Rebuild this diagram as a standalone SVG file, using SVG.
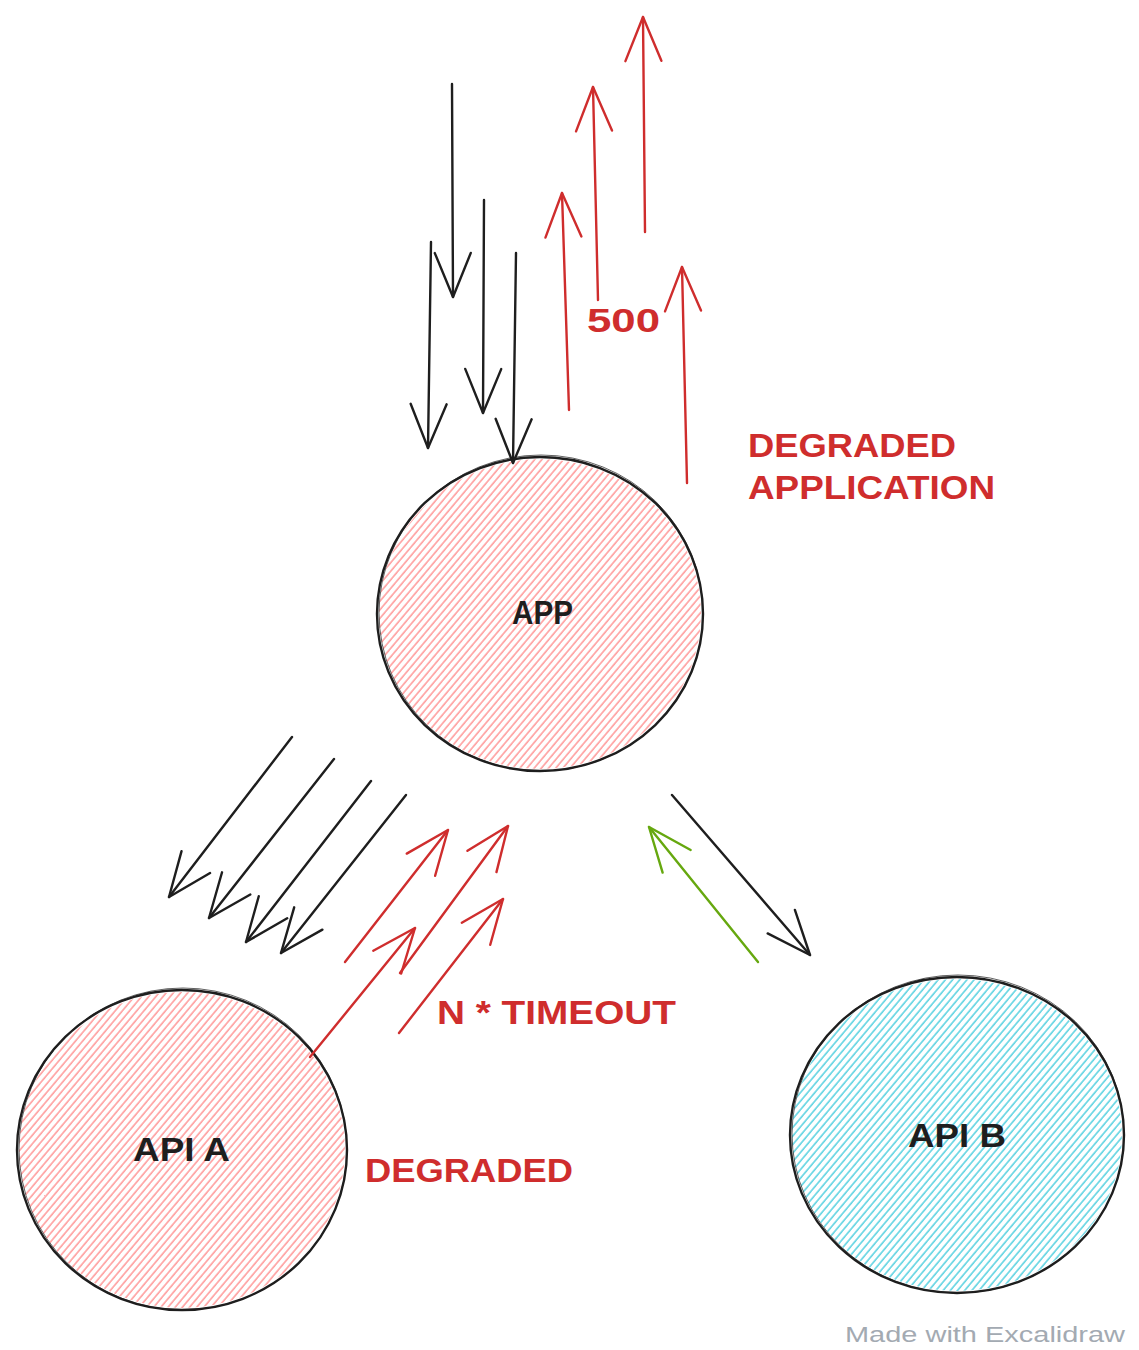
<svg xmlns="http://www.w3.org/2000/svg" width="1139" height="1350" viewBox="0 0 1139 1350">
  <style>
    .edge { fill: none; stroke-width: 2.4; stroke-linecap: round; stroke-linejoin: round; }
    .k { stroke: #1e1e1e; }
    .r { stroke: #cf2d2d; }
    .g { stroke: #66a80f; }
    .outline { fill: none; stroke: #1e1e1e; stroke-width: 2.4; }
    .outline2 { fill: none; stroke: #1e1e1e; stroke-width: 1; opacity: 0.7; }
    .lbl { font-family: "Liberation Sans", "DejaVu Sans", sans-serif; font-weight: bold; }
    .nodeText { fill: #1e1e1e; font-size: 34px; }
    .redText { fill: #cf2d2d; font-size: 34px; }
    .wm { fill: #a3aab2; font-size: 22px; font-weight: normal; }
  </style>
  <defs>
    <pattern id="hatchRed" patternUnits="userSpaceOnUse" width="5.5" height="10" patternTransform="rotate(40)">
      <line x1="1" y1="0" x2="1" y2="10" stroke="#ff8787" stroke-width="1.3"/>
    </pattern>
    <pattern id="hatchBlue" patternUnits="userSpaceOnUse" width="5.5" height="10" patternTransform="rotate(40)">
      <line x1="1" y1="0" x2="1" y2="10" stroke="#3bc9db" stroke-width="1.3"/>
    </pattern>
    <marker id="ahK" markerUnits="userSpaceOnUse" viewBox="-50 -25 56 50" markerWidth="56" markerHeight="50" refX="0" refY="0" orient="auto" overflow="visible">
      <path d="M -44 -18 L 0 0 L -44 18" fill="none" stroke="#1e1e1e" stroke-width="2.4" stroke-linecap="round" stroke-linejoin="round"/>
    </marker>
    <marker id="ahR" markerUnits="userSpaceOnUse" viewBox="-50 -25 56 50" markerWidth="56" markerHeight="50" refX="0" refY="0" orient="auto" overflow="visible">
      <path d="M -44 -18 L 0 0 L -44 18" fill="none" stroke="#cf2d2d" stroke-width="2.4" stroke-linecap="round" stroke-linejoin="round"/>
    </marker>
    <marker id="ahG" markerUnits="userSpaceOnUse" viewBox="-50 -25 56 50" markerWidth="56" markerHeight="50" refX="0" refY="0" orient="auto" overflow="visible">
      <path d="M -44 -18 L 0 0 L -44 18" fill="none" stroke="#66a80f" stroke-width="2.4" stroke-linecap="round" stroke-linejoin="round"/>
    </marker>
  </defs>

  <rect x="0" y="0" width="1139" height="1350" fill="#ffffff"/>

  <g id="node-app">
    <ellipse cx="540" cy="614" rx="161" ry="155" fill="url(#hatchRed)"/>
    <ellipse cx="540" cy="614" rx="163" ry="157" class="outline"/>
    <ellipse cx="541" cy="613" rx="162" ry="158" class="outline2"/>
    <text x="512" y="624" class="lbl nodeText" textLength="61" lengthAdjust="spacingAndGlyphs">APP</text>
  </g>

  <g id="node-api-a">
    <ellipse cx="182" cy="1150" rx="163" ry="158" fill="url(#hatchRed)"/>
    <ellipse cx="182" cy="1150" rx="165" ry="160" class="outline"/>
    <ellipse cx="183" cy="1149" rx="164" ry="161" class="outline2"/>
    <text x="133" y="1161" class="lbl nodeText" textLength="97" lengthAdjust="spacingAndGlyphs">API A</text>
  </g>

  <g id="node-api-b">
    <ellipse cx="957" cy="1135" rx="165" ry="156" fill="url(#hatchBlue)"/>
    <ellipse cx="957" cy="1135" rx="167" ry="158" class="outline"/>
    <ellipse cx="958" cy="1134" rx="166" ry="159" class="outline2"/>
    <text x="908" y="1147" class="lbl nodeText" textLength="98" lengthAdjust="spacingAndGlyphs">API B</text>
  </g>

  <g id="connectors">
    <!-- incoming requests to APP -->
    <path class="edge k" d="M 452 84 L 453 297" marker-end="url(#ahK)"/>
    <path class="edge k" d="M 431 242 L 428 448" marker-end="url(#ahK)"/>
    <path class="edge k" d="M 484 200 L 483 413" marker-end="url(#ahK)"/>
    <path class="edge k" d="M 516 253 L 513 463" marker-end="url(#ahK)"/>
    <!-- 500 responses -->
    <path class="edge r" d="M 569 410 L 562 193" marker-end="url(#ahR)"/>
    <path class="edge r" d="M 598 300 L 593 87" marker-end="url(#ahR)"/>
    <path class="edge r" d="M 645 232 L 643 17" marker-end="url(#ahR)"/>
    <path class="edge r" d="M 687 483 L 682 267" marker-end="url(#ahR)"/>
    <!-- APP to API A -->
    <path class="edge k" d="M 292 737 L 169 897" marker-end="url(#ahK)"/>
    <path class="edge k" d="M 334 759 L 209 918" marker-end="url(#ahK)"/>
    <path class="edge k" d="M 371 781 L 246 942" marker-end="url(#ahK)"/>
    <path class="edge k" d="M 406 795 L 281 953" marker-end="url(#ahK)"/>
    <!-- API A timeouts back to APP -->
    <path class="edge r" d="M 345 962 L 448 830" marker-end="url(#ahR)"/>
    <path class="edge r" d="M 400 973 L 508 826" marker-end="url(#ahR)"/>
    <path class="edge r" d="M 310 1057 L 415 928" marker-end="url(#ahR)"/>
    <path class="edge r" d="M 399 1033 L 503 899" marker-end="url(#ahR)"/>
    <!-- APP to API B and back -->
    <path class="edge k" d="M 672 795 L 810 955" marker-end="url(#ahK)"/>
    <path class="edge g" d="M 758 962 L 649 827" marker-end="url(#ahG)"/>
  </g>

  <g id="labels">
    <text x="587" y="332" class="lbl redText" textLength="73" lengthAdjust="spacingAndGlyphs">500</text>
    <text x="748" y="457" class="lbl redText" textLength="208" lengthAdjust="spacingAndGlyphs">DEGRADED</text>
    <text x="748" y="499" class="lbl redText" textLength="247" lengthAdjust="spacingAndGlyphs">APPLICATION</text>
    <text x="437" y="1024" class="lbl redText" font-size="32" textLength="239" lengthAdjust="spacingAndGlyphs">N * TIMEOUT</text>
    <text x="365" y="1182" class="lbl redText" textLength="208" lengthAdjust="spacingAndGlyphs">DEGRADED</text>
    <text x="845" y="1342" class="lbl wm" textLength="280" lengthAdjust="spacingAndGlyphs">Made with Excalidraw</text>
  </g>
</svg>
